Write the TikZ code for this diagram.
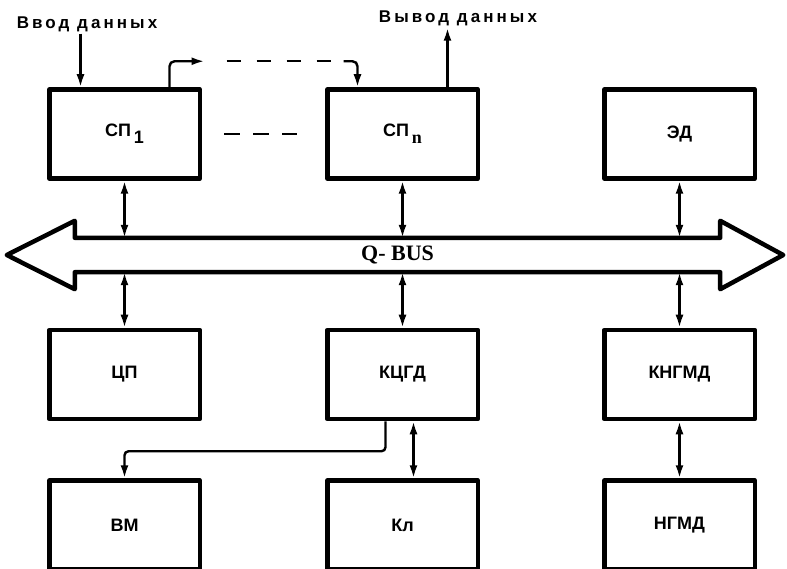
\documentclass[tikz,border=0pt]{standalone}
\usepackage{fontspec}
\setmainfont{Liberation Sans}
\newfontfamily\busfont{Liberation Serif}
\newfontfamily\shirfont[LetterSpace=18]{Liberation Sans}
\usetikzlibrary{arrows.meta, positioning}

\begin{document}
\begin{tikzpicture}[x=1pt, y=-1pt, node distance=147pt and 123pt, >={Latex[length=13pt, width=8pt]},
  blok/.style={draw, line width=4.5pt, minimum width=150.5pt, minimum height=89pt,
    line join=round, font=\fontsize{18}{20}\selectfont\bfseries},
  svyaz/.style={line width=2.4pt},
  podpis/.style={inner sep=2pt, font=\shirfont\fontsize{17}{20}\selectfont\bfseries}]
  \useasboundingbox (0,0) rectangle (787,569);

  % upper row
  \node[blok] (cp1) at (124.5,134) {СП\,\raisebox{-7pt}{1}};
  \node[blok, right=of cp1] (cpn) {СП\,\raisebox{-7pt}{\busfont n}};
  \node[blok, right=122pt of cpn] (ed) {ЭД};
  % lower rows
  \node[blok, below=of cp1] (cp) {ЦП};
  \node[blok, below=of cpn] (kcgd) {КЦГД};
  \node[blok, below=of ed] (kngmd) {КНГМД};
  \node[blok, below=57pt of cp] (vm) {ВМ};
  \node[blok, below=57pt of kcgd] (kl) {Кл};
  \node[blok, below=57pt of kngmd] (ngmd) {НГМД};

  % bus
  \node[minimum width=645pt, minimum height=34pt, inner sep=0pt,
    font=\busfont\fontsize{22}{24}\selectfont\bfseries] (bus) at (397.5,255) {Q- BUS};
  \draw[line width=4.5pt, line join=round] (bus.north west) -- (bus.north east)
    -- ([yshift=17pt]bus.north east) -- ([xshift=63pt]bus.east)
    -- ([yshift=-17pt]bus.south east) -- (bus.south east) -- (bus.south west)
    -- ([yshift=-17pt]bus.south west) -- ([xshift=-68pt]bus.west)
    -- ([yshift=17pt]bus.north west) -- cycle;

  \foreach \a/\b in {cp1/cp, cpn/kcgd, ed/kngmd} {
    \draw[svyaz, <->] (\a) -- (\a |- bus.north);
    \draw[svyaz, <->] (bus.south -| \b) -- (\b);
  }

  % input / output
  \node[podpis] (vvod) at (87,24) {Ввод данных};
  \node[podpis] (vyvod) at (458,18) {Вывод данных};
  \coordinate (in1) at ([xshift=-44pt]cp1.north);
  \coordinate (out1) at ([xshift=45pt]cpn.north);
  \draw[svyaz, ->] (vvod.south -| in1) -- (in1);
  \draw[svyaz, ->] (out1) -- (out1 |- vyvod.south);

  % chain of processors
  \coordinate (c1) at ([xshift=45pt]cp1.north);
  \coordinate (cn) at ([xshift=-45pt]cpn.north);
  \draw[svyaz, ->, rounded corners=5pt] (c1) -- ++(0,-26) coordinate (k1) -- ++(35,0);
  \draw[svyaz, dash pattern=on 14pt off 16pt] ([xshift=57pt]k1) -- ([xshift=-12pt]k1 -| cn);
  \draw[svyaz, ->, rounded corners=5pt] ([xshift=-14pt]k1 -| cn) -- (k1 -| cn) -- (cn);
  \draw[svyaz, dash pattern=on 16pt off 13pt] ([xshift=22pt]cp1.east) -- ([xshift=-28pt]cpn.west);

  % controllers
  \draw[svyaz, ->, rounded corners=4pt] ([xshift=-17pt]kcgd.south) -- ++(0,30) -| (vm.north);
  \draw[svyaz, <->] ([xshift=11pt]kcgd.south) -- ([xshift=11pt]kl.north);
  \draw[svyaz, <->] (kngmd) -- (ngmd);
\end{tikzpicture}
\end{document}
